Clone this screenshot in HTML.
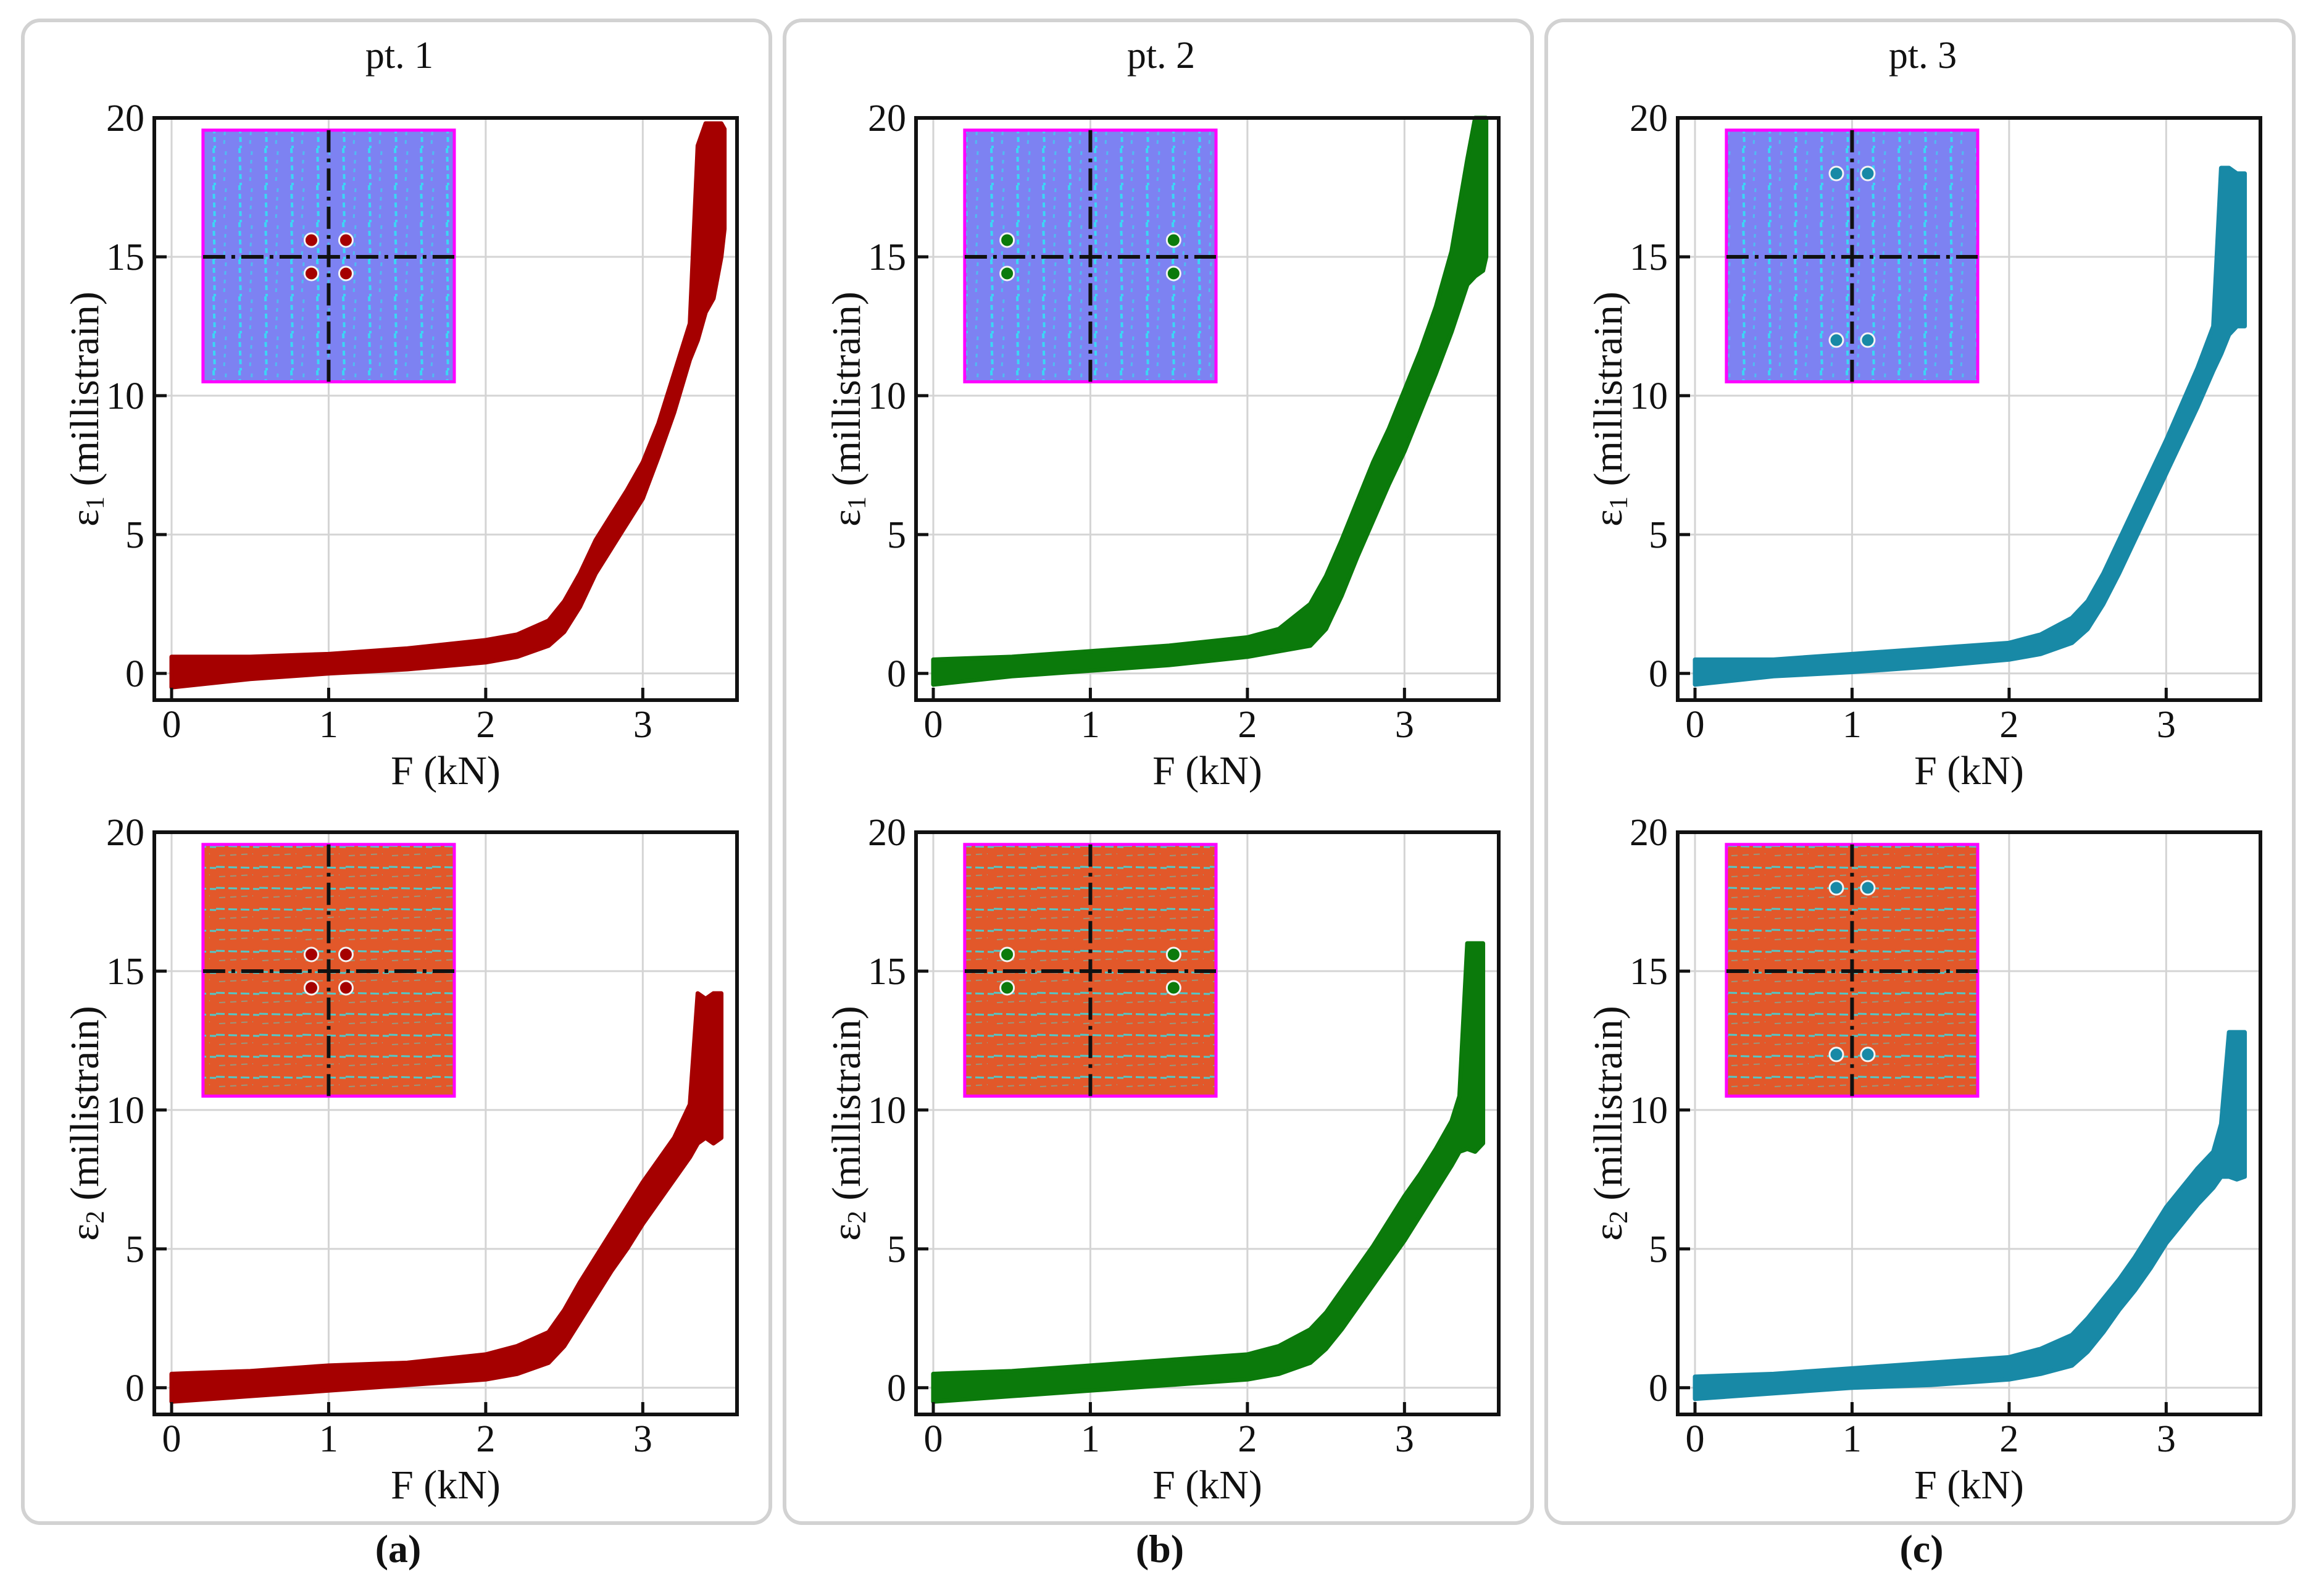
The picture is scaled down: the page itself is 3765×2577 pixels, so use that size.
<!DOCTYPE html>
<html><head><meta charset="utf-8">
<style>
html,body{margin:0;padding:0;background:#fff;}
svg{display:block;}
text{font-family:"Liberation Serif","DejaVu Serif",serif;fill:#111;}
</style></head>
<body>
<svg id="fig" width="3765" height="2577" viewBox="0 0 3765 2577" xmlns="http://www.w3.org/2000/svg">
<defs>
<pattern id="streakV" width="42" height="60" patternUnits="userSpaceOnUse">
<rect width="42" height="60" fill="#7d82f2"/>
<line x1="10" y1="0" x2="12" y2="60" stroke="#3bd6f5" stroke-width="4" stroke-dasharray="8 6"/>
<line x1="30" y1="5" x2="27" y2="55" stroke="#46c8f2" stroke-width="3" stroke-dasharray="6 8" opacity="0.8"/>
</pattern>
<pattern id="streakH" width="70" height="34" patternUnits="userSpaceOnUse">
<rect width="70" height="34" fill="#e2582a"/>
<line x1="0" y1="10" x2="70" y2="12" stroke="#52c8c8" stroke-width="3" stroke-dasharray="14 6"/>
<line x1="5" y1="26" x2="60" y2="23" stroke="#7ab0a0" stroke-width="2" stroke-dasharray="10 8" opacity="0.7"/>
</pattern>
</defs>
<g id="root"></g>
</svg>
<script>
// ---- data ----
const xTicks = [0, 1, 2, 3];
const yTicks = [0, 5, 10, 15, 20];
const panelTitles = ["pt. 1", "pt. 2", "pt. 3"];
const panelLetters = ["(a)", "(b)", "(c)"];
const seriesColors = ["#a50000", "#0b7a0b", "#1889a6"];

const forceA1 = [0,0.5,1,1.5,2,2.2,2.4,2.5,2.6,2.7,2.8,2.9,3.0,3.1,3.2,3.3,3.35,3.4,3.45,3.5,3.52];
const lowA1 = [-0.5,-0.2,0,0.15,0.4,0.6,1.0,1.5,2.4,3.6,4.5,5.4,6.3,7.8,9.4,11.3,12.0,13.0,13.5,15,16];
const highA1 = [0.6,0.6,0.7,0.9,1.2,1.4,1.9,2.6,3.6,4.8,5.7,6.6,7.6,9.0,10.8,12.6,19.0,19.8,19.8,19.8,19.6];

const forceB1 = [0,0.5,1,1.5,2,2.2,2.4,2.5,2.6,2.7,2.8,2.9,3.0,3.1,3.2,3.3,3.4,3.45,3.5,3.52];
const lowB1 = [-0.4,-0.1,0.1,0.3,0.6,0.8,1.0,1.6,2.8,4.2,5.5,6.8,8.0,9.4,10.8,12.3,14,14.3,14.5,15];
const highB1 = [0.5,0.6,0.8,1.0,1.3,1.6,2.5,3.5,4.8,6.2,7.6,8.8,10.2,11.6,13.2,15.2,18.5,20,20,20];

const forceC1 = [0,0.5,1,1.5,2,2.2,2.4,2.5,2.6,2.7,2.8,2.9,3.0,3.1,3.2,3.3,3.35,3.4,3.45,3.5];
const lowC1 = [-0.4,-0.1,0.05,0.25,0.5,0.7,1.1,1.6,2.5,3.6,4.8,6.0,7.2,8.4,9.6,10.9,11.5,12.2,12.5,12.5];
const highC1 = [0.5,0.5,0.7,0.9,1.1,1.4,2.0,2.6,3.6,4.8,6.0,7.2,8.4,9.7,11.0,12.5,18.2,18.2,18.0,18.0];

const forceA2 = [0,0.5,1,1.5,2,2.2,2.4,2.5,2.6,2.7,2.8,2.9,3.0,3.1,3.2,3.3,3.35,3.4,3.45,3.5];
const lowA2 = [-0.5,-0.3,-0.1,0.1,0.3,0.5,0.9,1.5,2.4,3.3,4.2,5.0,5.9,6.7,7.5,8.3,8.8,9.0,8.8,9.0];
const highA2 = [0.5,0.6,0.8,0.9,1.2,1.5,2.0,2.8,3.8,4.7,5.6,6.5,7.4,8.2,9.0,10.2,14.2,14.0,14.2,14.2];

const forceB2 = [0,0.5,1,1.5,2,2.2,2.4,2.5,2.6,2.7,2.8,2.9,3.0,3.1,3.2,3.3,3.35,3.4,3.45,3.5];
const lowB2 = [-0.5,-0.3,-0.1,0.1,0.3,0.5,0.9,1.4,2.1,2.9,3.7,4.5,5.3,6.2,7.1,8.0,8.5,8.6,8.5,8.8];
const highB2 = [0.5,0.6,0.8,1.0,1.2,1.5,2.1,2.7,3.5,4.3,5.1,6.0,6.9,7.7,8.6,9.6,10.5,16.0,16.0,16.0];

const forceC2 = [0,0.5,1,1.5,2,2.2,2.4,2.5,2.6,2.7,2.8,2.9,3.0,3.1,3.2,3.3,3.35,3.4,3.45,3.5];
const lowC2 = [-0.4,-0.2,0,0.1,0.3,0.5,0.8,1.3,2.0,2.8,3.5,4.3,5.2,5.9,6.6,7.2,7.6,7.6,7.5,7.6];
const highC2 = [0.4,0.5,0.7,0.9,1.1,1.4,1.9,2.5,3.2,3.9,4.7,5.6,6.5,7.2,7.9,8.5,9.5,12.8,12.8,12.8];

const markerXA = [0.89, 1.11, 0.89, 1.11];
const markerYA = [15.6, 15.6, 14.4, 14.4];
const markerXB = [0.47, 1.53, 0.47, 1.53];
const markerYB = [15.6, 15.6, 14.4, 14.4];
const markerXC = [0.9, 1.1, 0.9, 1.1];
const markerYC = [18, 18, 12, 12];

// ---- layout ----
const NS = "http://www.w3.org/2000/svg";
const root = document.getElementById("root");
const X_MIN = -0.11, X_MAX = 3.6, Y_MIN = -0.96, Y_MAX = 20;
const AX_W = 944, AX_H = 943;
const panelDX = 1234;

function mk(tag, attrs, parent) {
  const e = document.createElementNS(NS, tag);
  for (const k in attrs) e.setAttribute(k, attrs[k]);
  (parent || root).appendChild(e);
  return e;
}

const series = [
  [[forceA1, lowA1, highA1], [forceA2, lowA2, highA2]],
  [[forceB1, lowB1, highB1], [forceB2, lowB2, highB2]],
  [[forceC1, lowC1, highC1], [forceC2, lowC2, highC2]]
];
const markers = [[markerXA, markerYA], [markerXB, markerYB], [markerXC, markerYC]];

for (let p = 0; p < 3; p++) {
  const ox = p * panelDX;
  const frame = mk("rect", {x: 37 + ox, y: 33, width: 1211, height: 2434, rx: 28, ry: 28, fill: "none", stroke: "#d2d2d2", "stroke-width": 6});
  
  

  const title = mk("text", {x: 647 + ox, y: 110, "font-size": 62, "text-anchor": "middle"});
  title.textContent = panelTitles[p];
  
  

  const letter = mk("text", {x: 645 + ox, y: 2530, "font-size": 64, "font-weight": "bold", "text-anchor": "middle"});
  letter.textContent = panelLetters[p];
  
  

  for (let r = 0; r < 2; r++) {
    const L = 250 + ox, T = r === 0 ? 191 : 1348;
    const sx = v => L + (v - X_MIN) / (X_MAX - X_MIN) * AX_W;
    const sy = v => T + (Y_MAX - v) / (Y_MAX - Y_MIN) * AX_H;
    const tag = "abc"[p] + (r + 1);
    const g = mk("g", {});
    
    

    xTicks.forEach(t => {
      const l = mk("line", {x1: sx(t), x2: sx(t), y1: T, y2: T + AX_H, stroke: "#d4d4d4", "stroke-width": 3}, g);
      
      
    });
    yTicks.forEach(t => {
      const l = mk("line", {x1: L, x2: L + AX_W, y1: sy(t), y2: sy(t), stroke: "#d4d4d4", "stroke-width": 3}, g);
      
      
    });

    const ix = sx(0.2), iy = sy(19.56), iw = sx(1.8) - sx(0.2), ih = sy(10.5) - sy(19.56);
    const inset = mk("rect", {x: ix, y: iy, width: iw, height: ih, fill: r === 0 ? "url(#streakV)" : "url(#streakH)", stroke: "#ff00ff", "stroke-width": 5}, g);
    
    
    const cv = mk("line", {x1: sx(1), x2: sx(1), y1: iy, y2: iy + ih, stroke: "#111", "stroke-width": 6, "stroke-dasharray": "36 10 6 10"}, g);
    
    
    const ch = mk("line", {x1: ix, x2: ix + iw, y1: sy(15), y2: sy(15), stroke: "#111", "stroke-width": 6, "stroke-dasharray": "36 10 6 10"}, g);
    
    
    const mx = markers[p][0], my = markers[p][1];
    for (let i = 0; i < mx.length; i++) {
      const c = mk("circle", {cx: sx(mx[i]), cy: sy(my[i]), r: 11, fill: seriesColors[p], stroke: "#f4f4f4", "stroke-width": 3}, g);
      
      
    }

    const [F, lo, hi] = series[p][r];
    let pts = [];
    for (let i = 0; i < F.length; i++) pts.push(sx(F[i]) + "," + sy(hi[i]));
    for (let i = F.length - 1; i >= 0; i--) pts.push(sx(F[i]) + "," + sy(lo[i]));
    const band = mk("polygon", {points: pts.join(" "), fill: seriesColors[p], stroke: seriesColors[p], "stroke-width": 7, "stroke-linejoin": "round"}, g);
    
    

    const ax = mk("rect", {x: L, y: T, width: AX_W, height: AX_H, fill: "none", stroke: "#111", "stroke-width": 6}, g);
    
    

    xTicks.forEach(t => {
      const tk = mk("line", {x1: sx(t), x2: sx(t), y1: T + AX_H, y2: T + AX_H - 20, stroke: "#111", "stroke-width": 5}, g);
      
      
      const lb = mk("text", {x: sx(t), y: T + AX_H + 60, "font-size": 62, "text-anchor": "middle"}, g);
      lb.textContent = t;
      
      
    });
    yTicks.forEach(t => {
      const tk = mk("line", {x1: L, x2: L + 20, y1: sy(t), y2: sy(t), stroke: "#111", "stroke-width": 5}, g);
      
      
      const lb = mk("text", {x: L - 16, y: sy(t) + 21, "font-size": 62, "text-anchor": "end"}, g);
      lb.textContent = t;
      
      
    });

    const xl = mk("text", {x: L + AX_W / 2, y: T + AX_H + 136, "font-size": 66, "text-anchor": "middle"}, g);
    xl.textContent = "F (kN)";
    
    

    const cyy = T + AX_H / 2;
    const yl = mk("text", {x: L - 106, y: cyy, "font-size": 66, "text-anchor": "middle", transform: "rotate(-90 " + (L - 106) + " " + cyy + ")", "dominant-baseline": "middle"}, g);
    
    
    const t1 = mk("tspan", {}, yl); t1.textContent = "ε";
    const t2 = mk("tspan", {"font-size": 42, dy: 14}, yl); t2.textContent = String(r + 1);
    const t3 = mk("tspan", {dy: -14}, yl); t3.textContent = " (millistrain)";
  }
}
</script>
</body></html>
